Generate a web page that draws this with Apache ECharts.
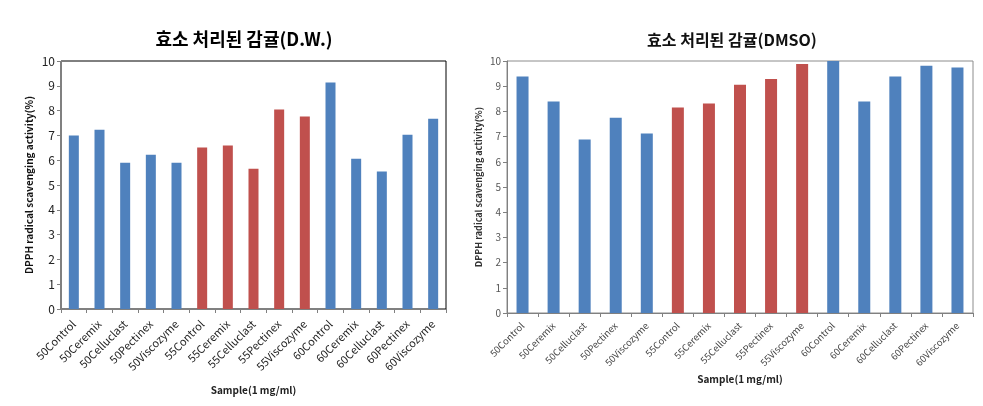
<!DOCTYPE html>
<html>
<head>
<meta charset="utf-8">
<script src="https://cdn.jsdelivr.net/npm/echarts@6/dist/echarts.min.js"></script>
<style>html,body{margin:0;padding:0;background:#fff}#c{width:983px;height:406px}</style>
</head>
<body>
<div id="c"></div>
<script>
const categories = ['50Control','50Ceremix','50Celluclast','50Pectinex','50Viscozyme','55Control','55Ceremix','55Celluclast','55Pectinex','55Viscozyme','60Control','60Ceremix','60Celluclast','60Pectinex','60Viscozyme'];
const valuesDW = [7.0, 7.23, 5.9, 6.22, 5.9, 6.51, 6.59, 5.66, 8.04, 7.76, 9.13, 6.06, 5.54, 7.03, 7.67];
const valuesDMSO = [9.38, 8.39, 6.88, 7.75, 7.12, 8.15, 8.31, 9.06, 9.29, 9.88, 10.0, 8.39, 9.38, 9.81, 9.74];
const highlightGroup = ['55Control','55Ceremix','55Celluclast','55Pectinex','55Viscozyme'];
const titles = ['효소 처리된 감귤(D.W.)', '효소 처리된 감귤(DMSO)'];
const yTicks = [0,1,2,3,4,5,6,7,8,9,10];
const xName = 'Sample(1 mg/ml)';
const yName = 'DPPH radical scavenging activity(%)';

const BLUE = '#4F81BD', RED = '#C0504D';
const font = '"Noto Sans CJK KR", "Noto Sans", sans-serif';
const colorOf = (p) => highlightGroup.includes(categories[p.dataIndex]) ? RED : BLUE;

const chart = echarts.init(document.getElementById('c'), null, {renderer:'canvas'});
function xAxis(i, fs, col, gap, margin) {
  return {
    type:'category', gridIndex:i, data:categories,
    axisLine:{lineStyle:{color:'#808080'}},
    axisTick:{show:true, alignWithLabel:false, length:4, lineStyle:{color:'#808080'}},
    axisLabel:{rotate:45, fontSize:fs, color:col, fontFamily:font, margin:margin, interval:0},
    name:xName, nameLocation:'middle', nameGap:gap,
    nameTextStyle:{fontSize:10, fontWeight:'bold', color:'#222', fontFamily:font}
  };
}
function yAxis(i, fs, col, gap, nfs, ncol) {
  return {
    type:'value', gridIndex:i, min:yTicks[0], max:yTicks[yTicks.length-1], interval:1,
    splitLine:{show:false},
    axisLine:{show:true, lineStyle:{color:'#808080'}},
    axisTick:{show:true, length:4, lineStyle:{color:'#808080'}},
    axisLabel:{fontSize:fs, color:col, fontFamily:font, margin:6},
    name:yName, nameLocation:'middle', nameGap:gap,
    nameTextStyle:{fontSize:nfs, fontWeight:'bold', color:ncol, fontFamily:font}
  };
}
chart.setOption({
  animation:false,
  title:[
    {text:titles[0], left:239, top:25, textAlign:'center', textStyle:{fontSize:18, fontWeight:'bold', color:'#000', fontFamily:font}},
    {text:titles[1], left:727, top:27, textAlign:'center', textStyle:{fontSize:16, fontWeight:'bold', color:'#111', fontFamily:font}}
  ],
  grid:[
    {left:61, right:537, top:61, bottom:97, show:true, borderColor:'#000', borderWidth:1, backgroundColor:'transparent'},
    {left:507, right:10, top:61, bottom:93, show:true, borderColor:'#8c8c8c', borderWidth:1, backgroundColor:'transparent'}
  ],
  xAxis:[xAxis(0, 11, '#222', 76, 13), xAxis(1, 9.5, '#444', 60, 11)],
  yAxis:[yAxis(0, 12, '#222', 27, 10, '#111'), yAxis(1, 10, '#555', 24, 9, '#333')],
  series:[
    {type:'bar', xAxisIndex:0, yAxisIndex:0, data:valuesDW, barWidth:10, itemStyle:{color:colorOf}},
    {type:'bar', xAxisIndex:1, yAxisIndex:1, data:valuesDMSO, barWidth:12, itemStyle:{color:colorOf}}
  ]
});
</script>
</body>
</html>
